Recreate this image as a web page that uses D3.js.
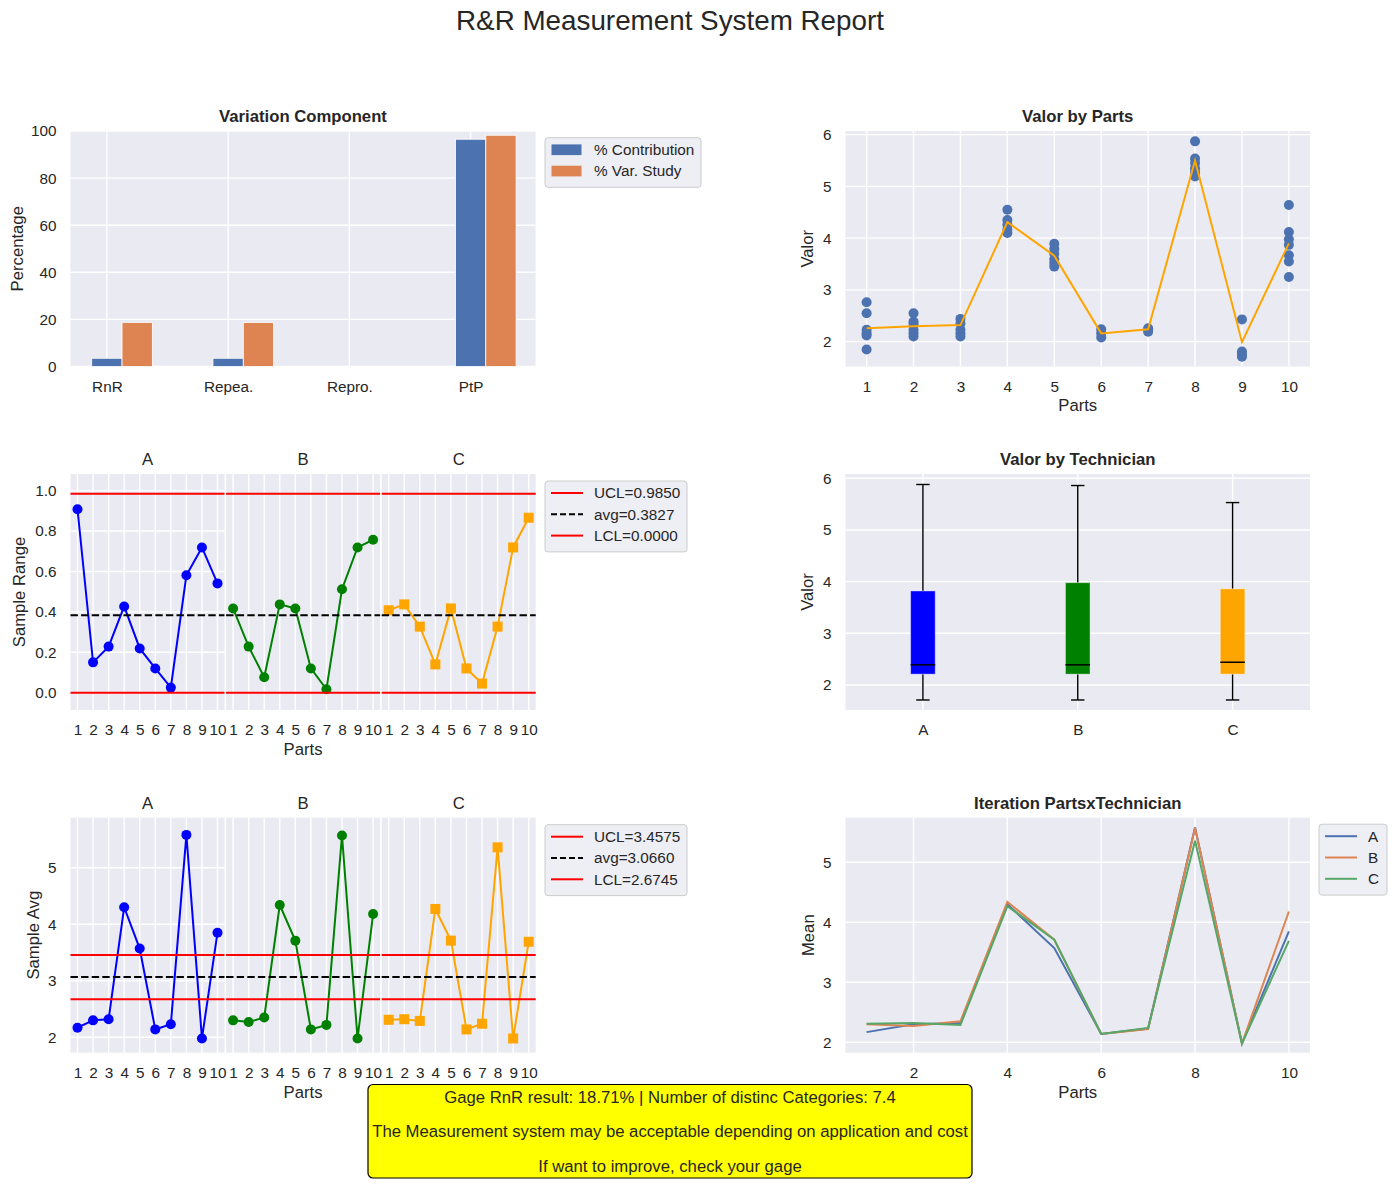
<!DOCTYPE html>
<html>
<head>
<meta charset="utf-8">
<script src="https://cdn.jsdelivr.net/npm/d3@7"></script>
<style>
body { margin: 0; background: #fff; }
svg { font-family: "Liberation Sans", Arial, sans-serif; }
</style>
</head>
<body>
<svg id="chart" width="1392" height="1184"></svg>
<script>
// ---- data ----
const parts = [1, 2, 3, 4, 5, 6, 7, 8, 9, 10];
const technicians = ["A", "B", "C"];
const components = ["RnR", "Repea.", "Repro.", "PtP"];
const pctContribution = [3.5, 3.5, 0, 96.5];
const pctVarStudy = [18.71, 18.71, 0, 98.2];

// every reading per part (scatter)
const valorByPart = [
  [2.76, 2.55, 2.23, 2.16, 2.12, 1.85],
  [2.55, 2.39, 2.34, 2.23, 2.16, 2.10],
  [2.44, 2.35, 2.23, 2.16, 2.10],
  [4.55, 4.35, 4.26, 4.16, 4.10],
  [3.89, 3.79, 3.70, 3.59, 3.52, 3.45],
  [2.24, 2.16, 2.08],
  [2.26, 2.23, 2.19],
  [5.87, 5.54, 5.45, 5.35, 5.27, 5.19],
  [2.43, 1.81, 1.75, 1.71],
  [4.64, 4.12, 3.98, 3.87, 3.67, 3.55, 3.25]
];
const partMeans = [2.26, 2.30, 2.32, 4.31, 3.66, 2.16, 2.24, 5.50, 1.99, 3.90];

// sample ranges per technician
const rangeA = [0.908, 0.150, 0.228, 0.427, 0.219, 0.120, 0.025, 0.581, 0.719, 0.541];
const rangeB = [0.417, 0.228, 0.076, 0.437, 0.417, 0.120, 0.017, 0.512, 0.719, 0.757];
const rangeC = [0.408, 0.437, 0.327, 0.140, 0.417, 0.120, 0.045, 0.327, 0.719, 0.866];
const rangeLimits = [0.9850, 0.3827, 0.0000];

// sample averages per technician
const avgA = [2.17, 2.30, 2.32, 4.30, 3.57, 2.14, 2.23, 5.58, 1.98, 3.85];
const avgB = [2.30, 2.27, 2.35, 4.34, 3.71, 2.14, 2.22, 5.57, 1.98, 4.18];
const avgC = [2.31, 2.32, 2.29, 4.27, 3.71, 2.14, 2.24, 5.36, 1.98, 3.69];
const avgLimits = [3.4575, 3.0660, 2.6745];
const limitNames = ["UCL", "avg", "LCL"];

// box plot stats per technician
const boxMin = [1.71, 1.71, 1.71];
const boxQ1 = [2.21, 2.21, 2.21];
const boxMedian = [2.39, 2.39, 2.44];
const boxQ3 = [3.82, 3.98, 3.86];
const boxMax = [5.88, 5.86, 5.53];

const summaryLines = [
  "Gage RnR result: 18.71% | Number of distinc Categories: 7.4",
  "The Measurement system may be acceptable depending on application and cost",
  "If want to improve, check your gage"
];

// ---- helpers ----
const svg = d3.select("#chart");
const INK = "#262626", BG = "#eaeaf2";
const FT = 15.3, FL = 16.7;
const L1 = 70.5, W1 = 465, L2 = 845.5, W2 = 464.5;
const rows = [{ top: 131, h: 235.5 }, { top: 474, h: 236 }, { top: 817.7, h: 235 }];

function frame(x, y, w, h) {
  const g = svg.append("g").attr("transform", `translate(${x},${y})`);
  g.append("rect").attr("width", w).attr("height", h).attr("fill", BG);
  return g;
}
function gridX(g, x, vals, h) {
  g.selectAll(null).data(vals).enter().append("line")
    .attr("x1", d => x(d)).attr("x2", d => x(d)).attr("y1", 0).attr("y2", h)
    .attr("stroke", "#fff").attr("stroke-width", 1.4);
}
function gridY(g, y, vals, w) {
  g.selectAll(null).data(vals).enter().append("line")
    .attr("y1", d => y(d)).attr("y2", d => y(d)).attr("x1", 0).attr("x2", w)
    .attr("stroke", "#fff").attr("stroke-width", 1.4);
}
function styleAxis(a) {
  a.select(".domain").remove();
  a.attr("font-size", FT).attr("font-family", null).style("color", INK);
}
function bottomAxis(g, x, vals, h, fmt) {
  g.append("g").attr("transform", `translate(0,${h})`)
    .call(d3.axisBottom(x).tickValues(vals).tickSize(0).tickPadding(14.5).tickFormat(fmt))
    .call(styleAxis);
}
function leftAxis(g, y, vals, fmt) {
  g.append("g")
    .call(d3.axisLeft(y).tickValues(vals).tickSize(0).tickPadding(14).tickFormat(fmt))
    .call(styleAxis);
}
function axTitle(g, cx, text, bold) {
  g.append("text").attr("x", cx).attr("y", -15).attr("dy", "0.35em")
    .attr("text-anchor", "middle").attr("font-size", FL)
    .attr("font-weight", bold ? "bold" : "normal").attr("fill", INK).text(text);
}
function xLabel(g, w, h, text) {
  g.append("text").attr("x", w / 2).attr("y", h + 39).attr("dy", "0.35em")
    .attr("text-anchor", "middle").attr("font-size", FL).attr("fill", INK).text(text);
}
function yLabel(g, dx, h, text) {
  g.append("text").attr("transform", `translate(${dx},${h / 2}) rotate(-90)`)
    .attr("dy", "0.35em").attr("text-anchor", "middle")
    .attr("font-size", FL).attr("fill", INK).text(text);
}
function legend(x, y, w, items) {
  const rh = 21.3;
  const g = svg.append("g").attr("transform", `translate(${x},${y})`);
  g.append("rect").attr("width", w).attr("height", 7 + items.length * rh).attr("rx", 3)
    .attr("fill", "#eeeef5").attr("stroke", "#cccccc");
  items.forEach((it, i) => {
    const cy = 12 + i * rh;
    if (it.type === "patch") {
      g.append("rect").attr("x", 6.5).attr("y", cy - 5.3).attr("width", 30).attr("height", 10.7).attr("fill", it.color);
    } else {
      g.append("line").attr("x1", 6).attr("x2", 38).attr("y1", cy).attr("y2", cy)
        .attr("stroke", it.color).attr("stroke-width", 2).attr("stroke-dasharray", it.dash || null);
    }
    g.append("text").attr("x", 49).attr("y", cy).attr("dy", "0.35em")
      .attr("font-size", FT).attr("fill", INK).text(it.label);
  });
}

// ---- suptitle ----
svg.append("text").attr("x", 670).attr("y", 20).attr("dy", "0.35em").attr("text-anchor", "middle")
  .attr("font-size", 27.8).attr("fill", INK).text("R&R Measurement System Report");

// ---- Variation Component (bars) ----
{
  const r = rows[0];
  const g = frame(L1, r.top, W1, r.h);
  const x = d3.scaleLinear().domain([-0.30, 3.535]).range([0, W1]);
  const y = d3.scaleLinear().domain([0, 100]).range([r.h, 0]);
  const idx = components.map((c, i) => i);
  gridX(g, x, idx, r.h);
  gridY(g, y, [0, 20, 40, 60, 80, 100], W1);
  const bw = 0.25;
  g.selectAll(null).data(pctContribution).enter().append("rect")
    .attr("x", (d, i) => x(i - bw / 2)).attr("width", x(bw) - x(0))
    .attr("y", d => y(d)).attr("height", d => y(0) - y(d))
    .attr("fill", "#4c72b0").attr("stroke", "#fff").attr("stroke-width", 0.8);
  g.selectAll(null).data(pctVarStudy).enter().append("rect")
    .attr("x", (d, i) => x(i + bw / 2)).attr("width", x(bw) - x(0))
    .attr("y", d => y(d)).attr("height", d => y(0) - y(d))
    .attr("fill", "#dd8452").attr("stroke", "#fff").attr("stroke-width", 0.8);
  bottomAxis(g, x, idx, r.h, i => components[i]);
  leftAxis(g, y, [0, 20, 40, 60, 80, 100], d3.format("d"));
  axTitle(g, W1 / 2, "Variation Component", true);
  yLabel(g, 17.3 - L1, r.h, "Percentage");
  legend(545, 137.7, 156, [
    { type: "patch", color: "#4c72b0", label: "% Contribution" },
    { type: "patch", color: "#dd8452", label: "% Var. Study" }
  ]);
}

// ---- Valor by Parts (scatter) ----
{
  const r = rows[0];
  const g = frame(L2, r.top, W2, r.h);
  const x = d3.scaleLinear().domain([0.55, 10.45]).range([0, W2]);
  const y = d3.scaleLinear().domain([1.52, 6.07]).range([r.h, 0]);
  gridX(g, x, parts, r.h);
  gridY(g, y, [2, 3, 4, 5, 6], W2);
  const pts = valorByPart.flatMap((vals, i) => vals.map(v => ({ p: parts[i], v })));
  g.selectAll(null).data(pts).enter().append("circle")
    .attr("cx", d => x(d.p)).attr("cy", d => y(d.v)).attr("r", 5).attr("fill", "#4c72b0");
  g.append("path").datum(partMeans)
    .attr("d", d3.line().x((d, i) => x(parts[i])).y(d => y(d)))
    .attr("fill", "none").attr("stroke", "#ffa500").attr("stroke-width", 2);
  bottomAxis(g, x, parts, r.h, d3.format("d"));
  leftAxis(g, y, [2, 3, 4, 5, 6], d3.format("d"));
  axTitle(g, W2 / 2, "Valor by Parts", true);
  xLabel(g, W2, r.h, "Parts");
  yLabel(g, 807.3 - L2, r.h, "Valor");
}

// ---- control charts (range / average) ----
const techColors = ["#0000ff", "#008000", "#ffa500"];
const techMarkers = ["circle", "circle", "square"];
function controlChart(r, yDomain, yTicks, yFmt, series, limits, yName, yLabX, legendW) {
  const pw = 154, gap = 1.6;
  const x = d3.scaleLinear().domain([0.55, 10.45]).range([0, pw]);
  const y = d3.scaleLinear().domain(yDomain).range([r.h, 0]);
  series.forEach((vals, i) => {
    const g = frame(L1 + i * (pw + gap), r.top, pw, r.h);
    gridX(g, x, parts, r.h);
    if (i === 0) gridY(g, y, yTicks, pw);
    g.append("path").datum(vals)
      .attr("d", d3.line().x((d, j) => x(parts[j])).y(d => y(d)))
      .attr("fill", "none").attr("stroke", techColors[i]).attr("stroke-width", 2);
    if (techMarkers[i] === "circle") {
      g.selectAll(null).data(vals).enter().append("circle")
        .attr("cx", (d, j) => x(parts[j])).attr("cy", d => y(d)).attr("r", 5).attr("fill", techColors[i]);
    } else {
      g.selectAll(null).data(vals).enter().append("rect")
        .attr("x", (d, j) => x(parts[j]) - 5).attr("y", d => y(d) - 5)
        .attr("width", 10).attr("height", 10).attr("fill", techColors[i]);
    }
    limits.forEach((v, k) => {
      g.append("line").attr("x1", 0).attr("x2", pw).attr("y1", y(v)).attr("y2", y(v))
        .attr("stroke", k === 1 ? "#000" : "#ff0000").attr("stroke-width", 2)
        .attr("stroke-dasharray", k === 1 ? "7.4,3.2" : null);
    });
    bottomAxis(g, x, parts, r.h, d3.format("d"));
    if (i === 0) {
      leftAxis(g, y, yTicks, yFmt);
      yLabel(g, yLabX - L1, r.h, yName);
    }
    if (i === 1) xLabel(g, pw, r.h, "Parts");
    axTitle(g, pw / 2, technicians[i], false);
  });
  legend(545, r.top + 7, legendW, limits.map((v, k) => ({
    type: "line", color: k === 1 ? "#000" : "#ff0000", dash: k === 1 ? "6,3" : null,
    label: `${limitNames[k]}=${v.toFixed(4)}`
  })));
}
controlChart(rows[1], [-0.0858, 1.0825], [0, 0.2, 0.4, 0.6, 0.8, 1.0], d3.format(".1f"),
  [rangeA, rangeB, rangeC], rangeLimits, "Sample Range", 19.6, 142);
controlChart(rows[2], [1.728, 5.884], [2, 3, 4, 5], d3.format("d"),
  [avgA, avgB, avgC], avgLimits, "Sample Avg", 33, 142);

// ---- Valor by Technician (box plot) ----
{
  const r = rows[1];
  const g = frame(L2, r.top, W2, r.h);
  const x = d3.scaleLinear().domain([0.5, 3.5]).range([0, W2]);
  const y = d3.scaleLinear().domain([1.516, 6.083]).range([r.h, 0]);
  const pos = [1, 2, 3];
  gridX(g, x, pos, r.h);
  gridY(g, y, [2, 3, 4, 5, 6], W2);
  const bw = 24.6, cw = 13.4;
  pos.forEach((p, i) => {
    const cx = x(p);
    g.append("line").attr("x1", cx).attr("x2", cx).attr("y1", y(boxQ3[i])).attr("y2", y(boxMax[i]))
      .attr("stroke", "#000").attr("stroke-width", 1.4);
    g.append("line").attr("x1", cx).attr("x2", cx).attr("y1", y(boxQ1[i])).attr("y2", y(boxMin[i]))
      .attr("stroke", "#000").attr("stroke-width", 1.4);
    [boxMax[i], boxMin[i]].forEach(v => g.append("line")
      .attr("x1", cx - cw / 2).attr("x2", cx + cw / 2).attr("y1", y(v)).attr("y2", y(v))
      .attr("stroke", "#000").attr("stroke-width", 1.4));
    g.append("rect").attr("x", cx - bw / 2).attr("width", bw)
      .attr("y", y(boxQ3[i])).attr("height", y(boxQ1[i]) - y(boxQ3[i]))
      .attr("fill", techColors[i]).attr("stroke", "#fff").attr("stroke-opacity", 0.4);
    g.append("line").attr("x1", cx - bw / 2).attr("x2", cx + bw / 2)
      .attr("y1", y(boxMedian[i])).attr("y2", y(boxMedian[i]))
      .attr("stroke", "#000").attr("stroke-width", 1.5);
  });
  bottomAxis(g, x, pos, r.h, p => technicians[p - 1]);
  leftAxis(g, y, [2, 3, 4, 5, 6], d3.format("d"));
  axTitle(g, W2 / 2, "Valor by Technician", true);
  yLabel(g, 807.3 - L2, r.h, "Valor");
}

// ---- Iteration PartsxTechnician ----
{
  const r = rows[2];
  const g = frame(L2, r.top, W2, r.h);
  const x = d3.scaleLinear().domain([0.55, 10.45]).range([0, W2]);
  const y = d3.scaleLinear().domain([1.827, 5.743]).range([r.h, 0]);
  gridX(g, x, [2, 4, 6, 8, 10], r.h);
  gridY(g, y, [2, 3, 4, 5], W2);
  const lineColors = ["#4c72b0", "#dd8452", "#55a868"];
  [avgA, avgB, avgC].forEach((vals, i) => {
    g.append("path").datum(vals)
      .attr("d", d3.line().x((d, j) => x(parts[j])).y(d => y(d)))
      .attr("fill", "none").attr("stroke", lineColors[i]).attr("stroke-width", 2);
  });
  bottomAxis(g, x, [2, 4, 6, 8, 10], r.h, d3.format("d"));
  leftAxis(g, y, [2, 3, 4, 5], d3.format("d"));
  axTitle(g, W2 / 2, "Iteration PartsxTechnician", true);
  xLabel(g, W2, r.h, "Parts");
  yLabel(g, 808.5 - L2, r.h, "Mean");
  legend(1319, r.top + 6.5, 68, technicians.map((t, i) => ({ type: "line", color: lineColors[i], label: t })));
}

// ---- summary box ----
{
  const g = svg.append("g");
  g.append("rect").attr("x", 368).attr("y", 1084.5).attr("width", 604).attr("height", 93.5).attr("rx", 5)
    .attr("fill", "#ffff00").attr("stroke", "#000").attr("stroke-width", 1.2);
  g.selectAll(null).data(summaryLines).enter().append("text")
    .attr("x", 670).attr("y", (d, i) => 1096.7 + i * 34.5).attr("dy", "0.35em")
    .attr("text-anchor", "middle").attr("font-size", FL).attr("fill", INK).text(d => d);
}
</script>
</body>
</html>
